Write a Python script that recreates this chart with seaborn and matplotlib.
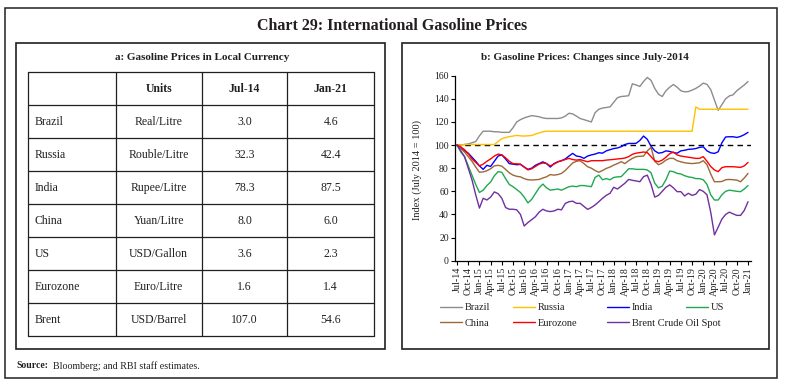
import numpy as np
import pandas as pd
import matplotlib
matplotlib.use("Agg")
import matplotlib.pyplot as plt
import seaborn as sns
from matplotlib.patches import Rectangle

# ---------------- data ----------------
countries = ["Brazil", "Russia", "India", "China", "US", "Eurozone", "Brent"]
units = ["Real/Litre", "Rouble/Litre", "Rupee/Litre", "Yuan/Litre",
         "USD/Gallon", "Euro/Litre", "USD/Barrel"]
jul14 = [3.0, 32.3, 78.3, 8.0, 3.6, 1.6, 107.0]
jan21 = [4.6, 42.4, 87.5, 6.0, 2.3, 1.4, 54.6]
table_header = ["", "Units", "Jul-14", "Jan-21"]

tick_labels = ["Jul-14", "Oct-14", "Jan-15", "Apr-15", "Jul-15", "Oct-15",
               "Jan-16", "Apr-16", "Jul-16", "Oct-16", "Jan-17", "Apr-17",
               "Jul-17", "Oct-17", "Jan-18", "Apr-18", "Jul-18", "Oct-18",
               "Jan-19", "Apr-19", "Jul-19", "Oct-19", "Jan-20", "Apr-20",
               "Jul-20", "Oct-20", "Jan-21"]

brazil = [100, 100, 100.5, 101, 102, 103, 108, 112, 112, 112,
          111.5, 111.5, 111, 111, 111, 115, 120, 122, 123.5, 124.5,
          125.5, 125, 124.5, 123.5, 123, 123, 123, 123, 123.5, 125,
          127.5, 127, 125, 123, 122, 121, 120, 128, 131, 132,
          132.5, 133, 137, 141, 142, 142.3, 142.7, 153, 152, 150.7,
          155, 158.5, 156, 149, 144, 142, 147, 150, 152.4, 150,
          147, 146, 146.3, 147.5, 149, 151, 153.6, 152.5, 148, 139,
          130, 135, 140, 142.5, 143.5, 147, 149.5, 152, 155]
russia = [100, 100, 100.5, 100.5, 100.5, 100.5, 100.5, 100.5, 100.5, 100.5,
          100.5, 103, 105.5, 106.5, 107.3, 107.8, 108.4, 108, 107.8, 108,
          108.3, 109.5, 110.5, 111.5, 112, 112, 112, 112, 112, 112,
          112, 112, 112, 112, 112, 112, 112, 112, 112, 112,
          112, 112, 112, 112, 112, 112, 112, 112, 112, 112,
          112, 112, 112, 112, 112, 112, 112, 112, 112, 112,
          112, 112, 112, 112, 133, 131, 131, 131, 131, 131,
          131, 131, 131, 131, 131, 131, 131, 131, 131]
india = [100, 97.5, 95, 93, 89.5, 86, 82, 79, 82.5, 81.5,
         86, 90.5, 91.5, 88, 84, 83.5, 83, 83.3, 81, 79,
         80, 82.5, 84, 85.5, 84, 81, 84, 85.5, 86.5, 88,
         90.5, 92.8, 90.5, 90, 88.5, 90.5, 91.5, 92.2, 93.4, 93,
         95, 96, 97, 97.5, 98.6, 100.5, 101.4, 101.4, 101.5, 104,
         107.8, 105, 99, 95, 93, 93.5, 95, 94.5, 93.5, 93,
         95, 95.5, 96.3, 96.5, 97, 98, 98.5, 95, 93.3, 92.8,
         94.2, 102, 107, 107.2, 107.2, 106.6, 107.5, 109, 111]
us = [100, 94, 90, 82, 74, 66, 59, 61, 65, 68,
      73.5, 77, 76.5, 71, 66, 64, 61.5, 59, 55, 50,
      53, 58, 63, 66.3, 63, 61, 61.5, 62, 61, 62.5,
      64, 64.5, 64, 65, 65, 64.5, 64, 72, 74, 70,
      71, 70, 72, 72.5, 72.7, 76, 79.5, 79.5, 79, 79,
      79, 78.5, 76, 67, 63, 64.5, 70, 77.5, 77, 75.5,
      75, 73.5, 72.5, 72, 71, 71, 70, 66, 57, 52.5,
      52.5, 57, 60, 61, 60.5, 60, 59.7, 62, 65]
china = [100, 97, 94, 90, 86, 81, 76.5, 76.8, 77.8, 79.5,
         82, 82.5, 81.8, 79, 76, 74, 73, 72.5, 71, 70,
         69.8, 70, 70.3, 71.5, 72.6, 74.5, 74, 74.5, 75.5, 78,
         81.3, 84.5, 86, 86.5, 84, 81.3, 80, 78, 76.5, 78,
         79.8, 81, 82.7, 84, 85.6, 84, 86.5, 88.5, 90, 90.3,
         90.5, 95, 98, 86, 83, 84.5, 87, 88.5, 88.5, 86.5,
         85.5, 84.7, 84.3, 84, 84.3, 84.7, 86.5, 83, 75, 68.3,
         68.3, 68.5, 70, 70.3, 70, 69.7, 68.3, 71.5, 75.5]
eurozone = [100, 98.5, 96, 92.5, 88, 85, 82, 83.5, 86, 88,
            90.5, 92.2, 91.5, 89, 86, 84, 83.8, 83.5, 81, 78.5,
            79.5, 81.5, 83.5, 84.5, 84, 82, 83.5, 85.5, 86.5, 87.5,
            88.5, 87.5, 87, 87.5, 86.5, 85.6, 86.5, 86.5, 86.5, 86.5,
            87, 87.3, 87.6, 88, 88.3, 88.8, 90, 92, 93, 93.5,
            94, 93.5, 90, 86.5, 85.6, 87, 89.5, 92.5, 94, 91.5,
            90.5, 90, 89.5, 89, 88.5, 88.5, 90, 86, 81.5, 78.5,
            77, 80.5, 81.3, 81.3, 81.3, 81, 80.7, 82, 85]
brent = [100, 95, 90, 80, 70, 57, 45.5, 54, 52.5, 55,
         59.5, 58, 54, 46, 44.5, 44.5, 44, 40, 30, 33,
         35.5, 38, 42, 44.5, 43, 42.5, 43, 44.5, 44, 49.5,
         51, 51.5, 49.6, 49.6, 47, 44.4, 46, 48.2, 51, 54,
         56.5, 58.3, 63.5, 62, 64.5, 67, 70.3, 69.5, 69, 68.3,
         72.7, 74, 66, 55, 56.5, 60, 63.5, 65.6, 63, 59.7,
         59.7, 56, 58.3, 56.5, 57.5, 61.5, 60, 57, 42, 22.3,
         29, 36, 40, 42, 40.5, 39.2, 39.2, 43.5, 51]

series_names = ["Brazil", "Russia", "India", "US", "China", "Eurozone",
                "Brent Crude Oil Spot"]
series_values = [brazil, russia, india, us, china, eurozone, brent]
colors = ["#8c8c8c", "#ffc000", "#0000ff", "#1fa851", "#9c6838", "#ff0000",
          "#7030a0"]

# ---------------- style ----------------
sns.set_theme(style="ticks")
plt.rcParams['font.family'] = ['Liberation Serif', 'DejaVu Serif']
TXT = "#231f20"

W, H = 786, 386
fig = plt.figure(figsize=(W / 100, H / 100), dpi=100)
fig.patch.set_facecolor("white")

bg = fig.add_axes([0, 0, 1, 1])
bg.set_xlim(0, W)
bg.set_ylim(H, 0)
bg.axis("off")


def rect(x0, y0, x1, y1, lw=1.0):
    bg.add_patch(Rectangle((x0, y0), x1 - x0, y1 - y0, fill=False,
                           ec=TXT, lw=lw))


# outer frame and panel boxes
rect(5, 8, 777, 378, lw=1.1)
rect(16, 42.7, 385, 349, lw=1.2)
rect(401.7, 42.7, 769.3, 349, lw=1.2)

bg.text(392, 26, "Chart 29: International Gasoline Prices", ha="center",
        va="center", fontsize=11.5, fontweight="bold", color=TXT)
bg.text(201.7, 57, "a: Gasoline Prices in Local Currency", ha="center",
        va="center", fontsize=8, fontweight="bold", color=TXT)
bg.text(585, 57, "b: Gasoline Prices: Changes since July-2014", ha="center",
        va="center", fontsize=8, fontweight="bold", color=TXT)

# ---------------- table (panel a) ----------------
col_x = [28.3, 115.7, 201.7, 287.3, 374]
row_h = 33
row_y = [72.3 + row_h * i for i in range(len(countries) + 2)]
for x in col_x:
    bg.plot([x, x], [row_y[0], row_y[-1]], color=TXT, lw=0.9)
for y in row_y:
    bg.plot([col_x[0], col_x[-1]], [y, y], color=TXT, lw=0.9)

hy = (row_y[0] + row_y[1]) / 2
for j, h in enumerate(table_header):
    if h:
        bg.text((col_x[j] + col_x[j + 1]) / 2, hy, h, ha="center", va="center",
                fontsize=8.5, fontweight="bold", color=TXT)
for i, c in enumerate(countries):
    cy = (row_y[i + 1] + row_y[i + 2]) / 2
    bg.text(col_x[0] + 6.5, cy, c, ha="left", va="center", fontsize=8.5,
            color=TXT)
    bg.text((col_x[1] + col_x[2]) / 2, cy, units[i], ha="center",
            va="center", fontsize=8.5, color=TXT)
    bg.text((col_x[2] + col_x[3]) / 2, cy, f"{jul14[i]:.1f}", ha="center",
            va="center", fontsize=8.5, color=TXT)
    bg.text((col_x[3] + col_x[4]) / 2, cy, f"{jan21[i]:.1f}", ha="center",
            va="center", fontsize=8.5, color=TXT)

bg.text(16, 366, "Source:", ha="left", va="center", fontsize=7,
        fontweight="bold", color=TXT)
bg.text(53, 366, "Bloomberg; and RBI staff estimates.", ha="left",
        va="center", fontsize=7.2, color=TXT)

# ---------------- line chart (panel b) ----------------
rows = []
for name, vals in zip(series_names, series_values):
    for m, v in enumerate(vals):
        rows.append((name, m, v))
df = pd.DataFrame(rows, columns=["series", "month", "value"])

ax_l, ax_r, ax_t, ax_b = 455, 751, 75.7, 260.7
ax = fig.add_axes([ax_l / W, 1 - ax_b / H, (ax_r - ax_l) / W, (ax_b - ax_t) / H])
ax.set_facecolor("none")

ax.axhline(100, color="black", lw=1.0, ls=(0, (4, 3)), zorder=1)
sns.lineplot(data=df, x="month", y="value", hue="series",
             hue_order=series_names, palette=dict(zip(series_names, colors)),
             linewidth=1.0, ax=ax, legend=True, zorder=2)
handles, labels = ax.get_legend_handles_labels()
ax.get_legend().remove()

ax.set_xlim(-0.55, 78.8)
ax.set_ylim(0, 160)
ax.set_yticks(np.arange(0, 161, 20))
ax.set_xticks(np.arange(0, 3 * len(tick_labels), 3))
ax.set_xticklabels(tick_labels, rotation=90)
ax.set_xlabel("")
ax.set_ylabel("Index (July 2014 = 100)", fontsize=7.5, color=TXT)
ax.yaxis.set_label_coords((422 - ax_l) / (ax_r - ax_l), 0.49)
sns.despine(ax=ax)
for s in ["left", "bottom"]:
    ax.spines[s].set_color("black")
    ax.spines[s].set_linewidth(0.9)
ax.tick_params(axis="both", direction="out", length=3, width=0.8,
               color="black", labelcolor=TXT, pad=1.5)
ax.tick_params(axis="y", labelsize=7)
ax.tick_params(axis="x", labelsize=7.2)

# legend laid out in columns like the reference
hmap = dict(zip(labels, handles))
for h in handles:
    h.set_linewidth(1.0)
legend_cols = [(440, ["Brazil", "China"]),
               (513, ["Russia", "Eurozone"]),
               (607, ["India", "Brent Crude Oil Spot"]),
               (686, ["US"])]
for x0, names in legend_cols:
    fig.legend([hmap[n] for n in names], names, loc="upper left",
               bbox_to_anchor=(x0 / W, 1 - 303 / H), frameon=False,
               borderpad=0, borderaxespad=0, handlelength=2.1,
               handletextpad=0.3, labelspacing=0.6, fontsize=7.5,
               labelcolor=TXT)

fig.savefig("out.png", dpi=100, facecolor="white")
